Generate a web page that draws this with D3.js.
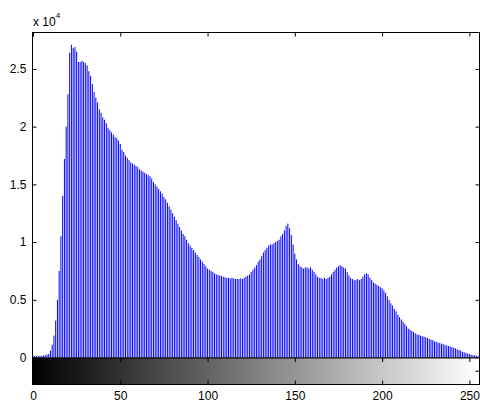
<!DOCTYPE html>
<html>
<head>
<meta charset="utf-8">
<script src="https://cdn.jsdelivr.net/npm/d3@7"></script>
<style>
  body { margin: 0; background: #fff; }
  svg { display: block; font-family: "Liberation Sans", Arial, sans-serif; }
</style>
</head>
<body>
<div id="chart"></div>
<script>
const width = 480;
const height = 402;

// histogram counts for gray levels 0..255
const counts = [
  150, 120, 120, 130, 140, 150, 170, 200, 250,
  300, 600, 1100, 1900, 3200, 5000, 7500, 10500, 14000, 17200, 20000,
  22800, 26400, 27100, 26800, 26900, 26500, 25600, 25600, 25700, 25600,
  25500, 25300, 24800, 24400, 23700, 23000, 22500, 22100, 21500, 21200,
  20800, 20600, 20300, 19900, 19700, 19500, 19300, 19100, 19000, 18800,
  18500, 18000, 17800, 17500, 17300, 17100, 16900, 16800, 16700, 16600,
  16500, 16300, 16200, 16100, 16000, 15900, 15800, 15700, 15500, 15200,
  15000, 14800, 14600, 14400, 14200, 13900, 13700, 13400, 13100, 12800,
  12500, 12200, 11900, 11600, 11300, 11000, 10700, 10500, 10200, 9900,
  9700, 9500, 9300, 9100, 8900, 8700, 8500, 8300, 8100, 7900,
  7700, 7600, 7500, 7400, 7300, 7200, 7150, 7100, 7050, 7000,
  6950, 6900, 6900, 6850, 6900, 6850, 6800, 6800, 6800, 6850,
  6800, 6900, 7000, 7100, 7200, 7400, 7600, 7800, 8000, 8300,
  8500, 8800, 9100, 9300, 9500, 9700, 9800, 9800, 9900, 10000,
  10100, 10200, 10500, 10700, 11000, 11400, 11600, 11200, 10600, 9800,
  9000, 8500, 8100, 7900, 7800, 7700, 7800, 7800, 7700, 7800,
  7600, 7400, 7200, 7000, 6900, 6900, 6800, 6900, 6800, 6900,
  7000, 7200, 7400, 7600, 7800, 7900, 8000, 7900, 7800, 7700,
  7400, 7100, 6900, 6800, 6700, 6700, 6800, 6700, 6800, 7000,
  7200, 7300, 7200, 6900, 6700, 6500, 6400, 6300, 6200, 6100,
  6000, 5800, 5600, 5300, 5000, 4700, 4500, 4200, 4000, 3700,
  3500, 3300, 3100, 2900, 2700, 2500, 2400, 2300, 2200, 2100,
  2000, 1950, 1900, 1850, 1800, 1750, 1700, 1600, 1550, 1500,
  1400, 1350, 1300, 1250, 1200, 1150, 1100, 1050, 1000, 950,
  900, 850, 800, 700, 650, 600, 500, 450, 400, 350,
  300, 250, 200, 200, 150, 100
];

const xTicks = [0, 50, 100, 150, 200, 250];
const yTicks = [0, 5000, 10000, 15000, 20000, 25000];
const yMax = 28200;

const plot = { left: 33, right: 479, top: 32, bottom: 357.5 };
const bar = { top: 357.5, bottom: 384 };

const svg = d3.select("#chart")
  .append("svg")
  .attr("width", width)
  .attr("height", height);

const x = d3.scaleLinear().domain([0, 255.5]).range([plot.left, plot.right]);
const y = d3.scaleLinear().domain([0, yMax]).range([plot.bottom, plot.top]);

// stems
svg.append("g")
  .selectAll("line")
  .data(counts)
  .join("line")
  .attr("x1", (d, i) => x(i))
  .attr("x2", (d, i) => x(i))
  .attr("y1", y(0))
  .attr("y2", d => y(d))
  .attr("stroke", "#0000ff")
  .attr("stroke-width", 1);

// histogram axes box
svg.append("rect")
  .attr("x", plot.left - 0.5)
  .attr("y", plot.top + 0.5)
  .attr("width", plot.right - plot.left + 1)
  .attr("height", plot.bottom - plot.top)
  .attr("fill", "none")
  .attr("stroke", "#000");

function styleAxis(g) {
  g.select(".domain").remove();
  g.selectAll(".tick line").attr("stroke", "#000");
  g.selectAll("text").attr("fill", "#000").style("font-size", "12px");
}

svg.append("g")
  .attr("transform", `translate(${plot.left - 0.5},0)`)
  .call(d3.axisLeft(y).tickValues(yTicks).tickSize(-4).tickPadding(6)
    .tickFormat(d => d / 10000))
  .call(styleAxis);

svg.append("g")
  .attr("transform", `translate(${plot.right + 0.5},0)`)
  .call(d3.axisRight(y).tickValues(yTicks).tickSize(-4).tickFormat(""))
  .call(styleAxis);

svg.append("g")
  .attr("transform", `translate(0,${plot.top + 0.5})`)
  .call(d3.axisTop(x).tickValues(xTicks).tickSize(-4).tickFormat(""))
  .call(styleAxis);

// exponent label
const expo = svg.append("text")
  .attr("x", 33)
  .attr("y", 26)
  .attr("fill", "#000")
  .style("font-size", "12px");
expo.append("tspan").text("x 10");
expo.append("tspan").attr("dy", -8).style("font-size", "8px").text("4");

// gray colorbar
const grad = svg.append("defs").append("linearGradient")
  .attr("id", "grayramp")
  .attr("x1", "0%").attr("x2", "100%");
grad.append("stop").attr("offset", "0%").attr("stop-color", "#000");
grad.append("stop").attr("offset", "100%").attr("stop-color", "#fff");

svg.append("rect")
  .attr("x", plot.left - 0.5)
  .attr("y", bar.top + 0.5)
  .attr("width", plot.right - plot.left + 1)
  .attr("height", bar.bottom - bar.top)
  .attr("fill", "url(#grayramp)")
  .attr("stroke", "#000");

svg.append("g")
  .attr("transform", `translate(0,${bar.top + 0.5})`)
  .call(d3.axisTop(x).tickValues(xTicks).tickSize(-4).tickFormat(""))
  .call(styleAxis);

svg.append("g")
  .attr("transform", `translate(0,${bar.bottom + 0.5})`)
  .call(d3.axisBottom(x).tickValues(xTicks).tickSize(-4).tickPadding(7))
  .call(styleAxis);

const barY = d3.scaleLinear().domain([0, 1]).range([bar.bottom, bar.top]);
svg.append("g")
  .attr("transform", `translate(${plot.right + 0.5},0)`)
  .call(d3.axisRight(barY).tickValues([0.5]).tickSize(-4).tickFormat(""))
  .call(styleAxis);
</script>
</body>
</html>
